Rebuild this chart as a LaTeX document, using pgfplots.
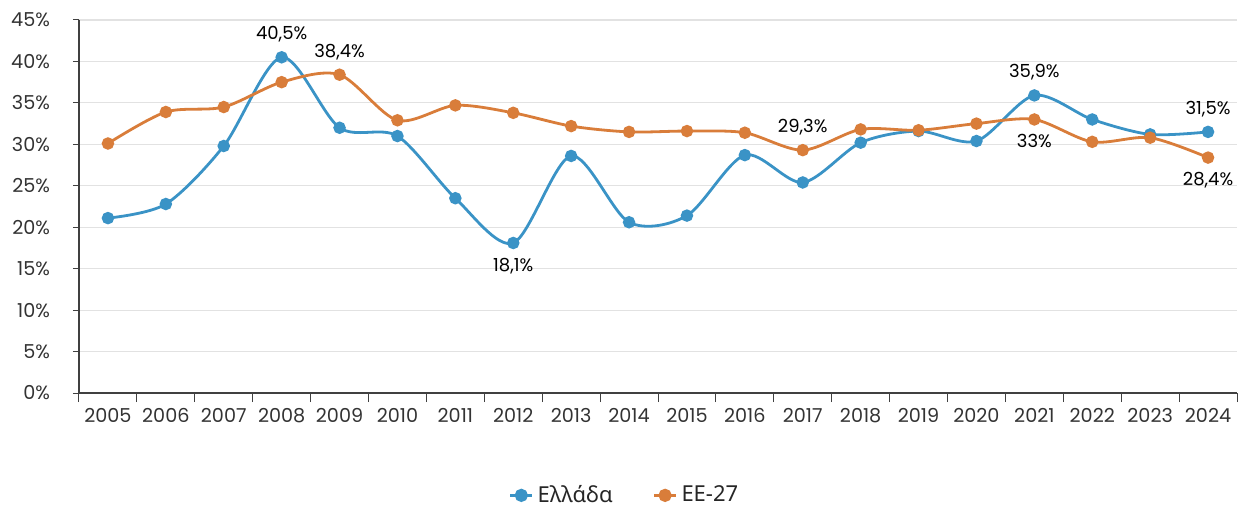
\documentclass[border=0pt]{standalone}
\usepackage{fontspec}
\setmainfont{Poppins}
\newfontfamily\grfont{Noto Sans}
\usepackage{pgfplots}
\pgfplotsset{compat=1.18}

\definecolor{grblue}{HTML}{3A93C6}
\definecolor{euorange}{HTML}{D97D3A}
\definecolor{gridgray}{HTML}{E2E2E2}
\definecolor{axisgray}{HTML}{404040}

\begin{document}
\begin{tikzpicture}
\begin{axis}[
    name=main,
    scale only axis,
    width=579pt, height=186.5pt,
    xmin=-0.5, xmax=19.5,
    ymin=0, ymax=45,
    axis lines*=left,
    axis line style={axisgray, line width=0.6pt},
    xtick={0,...,19},
    xticklabels={2005,2006,2007,2008,2009,2010,2011,2012,2013,2014,2015,2016,2017,2018,2019,2020,2021,2022,2023,2024},
    major x tick style={draw=none},
    minor xtick={-0.5,0.5,...,19.5},
    minor x tick style={axisgray, line width=0.5pt},
    minor tick length=4.5pt,
    ytick={0,5,...,45},
    yticklabel={\pgfmathprintnumber{\tick}\%},
    y tick style={axisgray, line width=0.5pt},
    major tick length=3pt,
    tick align=outside,
    ymajorgrids,
    grid style={gridgray, line width=0.6pt},
    tick label style={font=\fontsize{9.6}{11}\selectfont, text=black!80},
    yticklabel style={xshift=-8pt},
    /pgf/number format/assume math mode=true,
    xticklabel style={yshift=-1pt},
    legend style={at={(0.472,-0.225)}, anchor=north, draw=none, legend columns=2,
        font=\grfont\fontsize{11}{13}\selectfont, text=black!85,
        /tikz/every even column/.append style={column sep=18pt}},
    legend image code/.code={
        \draw[#1, line width=1.4pt] (0pt,0pt) -- (11pt,0pt);
        \draw[#1, only marks, mark=*, mark size=2.6pt] plot coordinates {(5.5pt,0pt)};
    },
    every axis plot/.append style={line width=1.4pt, smooth, tension=0.5, mark=*, mark size=2.4pt, mark options={solid}},
    clip=false,
]
\addplot[color=grblue] coordinates {
(0,21.1) (1,22.8) (2,29.8) (3,40.5) (4,32.0) (5,31.0) (6,23.5) (7,18.1) (8,28.6) (9,20.6)
(10,21.4) (11,28.7) (12,25.4) (13,30.2) (14,31.6) (15,30.4) (16,35.9) (17,33.0) (18,31.2) (19,31.5)
};
\addlegendentry{Ελλάδα}
\addplot[color=euorange] coordinates {
(0,30.1) (1,33.9) (2,34.5) (3,37.5) (4,38.4) (5,32.9) (6,34.7) (7,33.8) (8,32.2) (9,31.5)
(10,31.6) (11,31.4) (12,29.3) (13,31.8) (14,31.7) (15,32.5) (16,33.0) (17,30.3) (18,30.8) (19,28.4)
};
\addlegendentry{ΕΕ-27}

\begin{scope}[every node/.style={font=\fontsize{9}{10}\selectfont, text=black}]
\node[above=4pt] at (axis cs:3,40.5) {40,5\%};
\node[above=4pt] at (axis cs:4,38.4) {38,4\%};
\node[below=4pt] at (axis cs:7,18.1) {18,1\%};
\node[above=4pt] at (axis cs:12,29.3) {29,3\%};
\node[above=4pt] at (axis cs:16,35.9) {35,9\%};
\node[below=4pt] at (axis cs:16,33.0) {33\%};
\node[above=4pt] at (axis cs:19,31.5) {31,5\%};
\node[below=4pt] at (axis cs:19,28.4) {28,4\%};
\end{scope}
\end{axis}
\pgfresetboundingbox
\path[use as bounding box] ([xshift=-39.5pt,yshift=-58pt]main.south west) rectangle ([xshift=5.5pt,yshift=10pt]main.north east);
\end{tikzpicture}
\end{document}
